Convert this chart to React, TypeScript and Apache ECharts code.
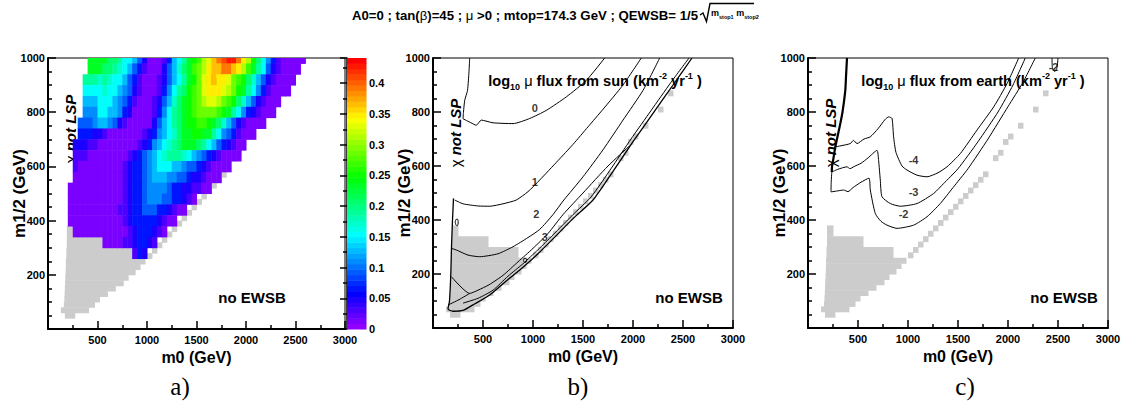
import React, { useEffect, useRef } from 'react';
import * as echarts from 'echarts';

const SANS = '"Liberation Sans", Arial, Helvetica, sans-serif';
const SERIF = '"Liberation Serif", "Times New Roman", serif';

// ---------- axes ----------
const M0_MIN = 0;
const M0_MAX = 3000;
const M0_STEP = 500;
const M12_MIN = 0;
const M12_MAX = 1000;
const M12_STEP = 200;
const OMEGA_MAX = 0.441;
const OMEGA_TICK = 0.05;
const OMEGA_LEVELS = 50;

// ---------- panel a: relic density Omega h^2 ----------
// cells are 50 GeV (m0) x 40 GeV (m1/2); letter a..v = 0.01, 0.03, ..., 0.43
const OMEGA_CELL_M0 = 50;
const OMEGA_CELL_M12 = 40;
const OMEGA_CODES = 'abcdefghijklmnopqrstuv';
const omegaRowM12 = [980, 940, 900, 860, 820, 780, 740, 700, 660, 620, 580, 540, 500, 460, 420, 380, 340, 300, 260];
const omegaRowM0 = [400, 400, 350, 350, 350, 350, 300, 300, 250, 250, 250, 250, 200, 200, 200, 200, 250, 550, 850];
const omegaRowCodes = [
  'llllkkjhhgecaaabdghjlmnpqstuvvtrpmkhfdbaaaaa',
  'lllkkjihgedbaaacegiklnoprssttsrpnljhecbaaaa',
  'jjjijihhgedbaaabceghjlmoqrsrrqonmkigecbaaaa',
  'hhhhihhgfecbaaabdfhjkmnoqrrrqpomljhfdbaaaa',
  'ggghhhgfedbaaabcegiklmnopqqponmkigecbaaa',
  'fffhhggfdcaaaabdfhjklmnoooonmljhfdcbaaa',
  'eeefggfecbaaaaaceghjklmmnnmlkigecbaaaa',
  'dddccbaaaaaaabcdfghikllmmlljhfedbaaa',
  'cccbbaaaaaaaabcdfghijklllkjhgedcbaa',
  'bbbaaaaaaaabcdefghijjjihgfedcbaaaa',
  'baaaaaaaaabcddefghhhggfeedcbaaaa',
  'aaaaaaaaaabcddefgggffeedccbaaa',
  'aaaaaaaaaaabcddeffffeddccbbaa',
  'aaaaaaaaaaabcddefffeeddcba',
  'aaaaaaaaaabbcddeeeddcbaa',
  'aaaaaaaaaaabcdddddcbaa',
  'aaaaaaaaaaabcdddcba',
  'aaaabbcddcb',
  'bdc',
];

// ---------- grey excluded region (all panels) ----------
// [m1/2 low, m1/2 high, m0 from, m0 to]
const greyBands = [
  [340, 380, 190, 250], [300, 340, 190, 550], [260, 300, 185, 850], [240, 260, 180, 980],
  [220, 240, 180, 930], [200, 220, 178, 880], [180, 200, 175, 810], [160, 180, 172, 760],
  [140, 160, 170, 680], [120, 140, 168, 600], [100, 120, 165, 520], [80, 100, 160, 470],
  [60, 80, 130, 410], [40, 60, 170, 270],
];
const GREY_CELL_M0 = 50;
const GREY_CELL_M12 = 20;
const greyDiag = [
  [1000, 260], [1050, 280], [1100, 300], [1150, 320], [1200, 340], [1250, 360], [1300, 380],
  [1350, 400], [1400, 420], [1450, 440], [1500, 460], [1550, 480], [1600, 500], [1650, 520],
  [1700, 540], [1750, 560], [1850, 620], [1900, 640], [1950, 680], [2000, 700], [2100, 740],
  [2250, 800], [2350, 860],
];

// ---------- panel b: log10 muon flux from the sun (contours) ----------
const sunChiLine = [[367, 1000], [360, 950], [345, 880], [317, 843], [305, 800], [300, 775]];
const sunC0 = [[300, 775], [380, 760], [433, 751], [483, 770], [600, 760], [800, 757], [967, 776], [1133, 806], [1333, 856], [1533, 917], [1717, 1000]];
const sunC1 = [[217, 474], [300, 460], [450, 452], [567, 451], [700, 460], [833, 474], [950, 505], [1067, 548], [1250, 620], [1400, 680], [1550, 745], [1700, 810], [1900, 900], [2083, 1000]];
const sunC2 = [[184, 295], [233, 289], [350, 270], [467, 264], [650, 275], [800, 301], [950, 335], [1067, 365], [1200, 420], [1300, 470], [1500, 560], [1700, 660], [1900, 770], [2100, 880], [2267, 1000]];
const sunC3 = [[1967, 675], [1750, 600], [1500, 500], [1300, 420], [1150, 350], [1000, 295], [850, 245], [700, 195], [560, 160], [450, 140], [367, 128], [184, 190]];
const sunC3b = [[367, 128], [260, 105], [150, 85]];
const sunEdgeOuter = [[205, 480], [195, 400], [185, 300], [178, 200], [165, 100], [150, 70], [200, 62], [300, 65], [420, 90], [567, 122], [750, 180], [900, 225], [1050, 275], [1200, 330], [1400, 405], [1600, 474], [1800, 580], [2000, 690], [2200, 795], [2400, 900], [2590, 1000]];
const sunEdgeInner = [[300, 92], [450, 110], [600, 140], [750, 192], [900, 238], [1050, 290], [1200, 345], [1400, 420], [1580, 485], [1780, 590], [1980, 700], [2180, 805], [2380, 910], [2560, 1000]];
const sunIsland0 = [[242, 378], [228, 383], [222, 392], [230, 402], [245, 403], [252, 394], [250, 384], [242, 378]];
const sunIsland1 = [[905, 250], [915, 243], [930, 243], [937, 250], [928, 258], [912, 258], [905, 250]];
const sunLabelText = ['0', '1', '2', '3'];
const sunLabelM0 = [1017, 1017, 1033, 1117];
const sunLabelM12 = [816, 541, 424, 336];

// ---------- panel c: log10 muon flux from the earth (contours) ----------
const earthChiLine = [[390, 1000], [380, 930], [373, 880], [345, 800], [323, 757], [290, 700], [273, 671], [255, 630], [240, 597], [238, 578]];
const earthChiTail = [[238, 578], [232, 540], [230, 504]];
const earthM4 = [[273, 671], [330, 675], [423, 683], [455, 695], [490, 683], [560, 700], [623, 708], [700, 738], [770, 772], [806, 782], [840, 776], [856, 708], [880, 650], [940, 600], [990, 585], [1090, 566], [1190, 560], [1300, 575], [1390, 597], [1523, 646], [1690, 733], [1857, 819], [1990, 905], [2107, 1000]];
const earthM3 = [[238, 578], [300, 588], [390, 597], [420, 590], [460, 598], [530, 610], [600, 630], [690, 658], [706, 621], [723, 548], [740, 486], [823, 461], [923, 451], [1090, 461], [1256, 498], [1356, 535], [1500, 590], [1700, 690], [1900, 800], [2050, 900], [2173, 1000]];
const earthM2 = [[230, 504], [300, 508], [356, 511], [400, 505], [450, 520], [530, 540], [610, 555], [623, 511], [673, 424], [730, 395], [790, 381], [890, 369], [1056, 381], [1190, 412], [1323, 461], [1450, 520], [1600, 590], [1800, 700], [2000, 820], [2150, 910], [2273, 1000]];
const earthM2Top = [[2440, 1000], [2445, 960], [2470, 950], [2490, 965], [2500, 1000]];
const earthLabelText = ['-4', '-3', '-2', '-2'];
const earthLabelM0 = [1056, 1056, 956, 2456];
const earthLabelM12 = [621, 504, 424, 968];

// ---------- helpers ----------
function hslToHex(h: number, s: number, l: number) {
  const a = s * Math.min(l, 1 - l);
  const f = (n: number) => {
    const k = (n + h / 30) % 12;
    const c = l - a * Math.max(-1, Math.min(k - 3, 9 - k, 1));
    return Math.round(255 * c).toString(16).padStart(2, '0');
  };
  return '#' + f(0) + f(8) + f(4);
}
function paletteColor(level: number) {
  const hue = 280 - (level + 1) * (280 / OMEGA_LEVELS);
  return hslToHex(Math.max(0, hue), 1, 0.5);
}
function omegaColor(v: number) {
  const lvl = Math.max(0, Math.min(OMEGA_LEVELS - 1, Math.floor((v / OMEGA_MAX) * OMEGA_LEVELS)));
  return paletteColor(lvl);
}

function rectFrom(api: any, x0: number, x1: number, y0: number, y1: number, fill: string) {
  const p0 = api.coord([x0, y1]);
  const p1 = api.coord([x1, y0]);
  return {
    type: 'rect',
    shape: { x: p0[0], y: p0[1], width: p1[0] - p0[0] + 0.5, height: p1[1] - p0[1] + 0.5 },
    style: { fill },
  };
}

const axisBlack = { color: '#000', width: 2 };
const tickBlack = { color: '#000', width: 1.5 };
const labelFont = { color: '#000', fontFamily: SANS, fontWeight: 'bold' as const, fontSize: 11 };
const titleFont = { color: '#000', fontFamily: SANS, fontWeight: 'bold' as const, fontSize: 16 };

function xAxisFor(gridIndex: number) {
  return {
    type: 'value', gridIndex, min: M0_MIN, max: M0_MAX, interval: M0_STEP,
    name: 'm0 (GeV)', nameLocation: 'middle', nameGap: 20, nameTextStyle: titleFont,
    axisLine: { show: true, onZero: false, lineStyle: axisBlack },
    axisTick: { show: true, inside: true, length: 8, lineStyle: tickBlack },
    minorTick: { show: true, splitNumber: 2, length: 4, lineStyle: tickBlack },
    axisLabel: { ...labelFont, margin: 5, formatter: (v: number) => (v === 0 ? '' : String(v)) },
    splitLine: { show: false },
  };
}
function yAxisFor(gridIndex: number) {
  return {
    type: 'value', gridIndex, min: M12_MIN, max: M12_MAX, interval: M12_STEP,
    name: 'm1/2 (GeV)', nameLocation: 'middle', nameGap: 20, nameMoveOverlap: false,
    nameTextStyle: { ...titleFont, fontSize: 17 },
    axisLine: { show: true, onZero: false, lineStyle: axisBlack },
    axisTick: { show: true, inside: true, length: 8, lineStyle: tickBlack },
    minorTick: { show: true, splitNumber: 4, length: 4, lineStyle: tickBlack },
    axisLabel: { ...labelFont, margin: 3, formatter: (v: number) => (v === 0 ? '' : String(v)) },
    splitLine: { show: false },
  };
}

function greySeries(axisIndex: number) {
  return [
    {
      type: 'custom', xAxisIndex: axisIndex, yAxisIndex: axisIndex, silent: true,
      encode: { x: [2, 3], y: [0, 1] },
      data: greyBands,
      renderItem: (_p: any, api: any) => rectFrom(api, api.value(2), api.value(3), api.value(0), api.value(1), '#cccccc'),
    },
    {
      type: 'custom', xAxisIndex: axisIndex, yAxisIndex: axisIndex, silent: true,
      encode: { x: 0, y: 1 },
      data: greyDiag,
      renderItem: (_p: any, api: any) =>
        rectFrom(api, api.value(0), api.value(0) + GREY_CELL_M0, api.value(1), api.value(1) + GREY_CELL_M12, '#cccccc'),
    },
  ];
}

function contour(axisIndex: number, data: number[][], width = 1) {
  return {
    type: 'line', xAxisIndex: axisIndex, yAxisIndex: axisIndex, data,
    showSymbol: false, symbol: 'none', silent: true, smooth: 0.2,
    lineStyle: { color: '#000', width },
  };
}

function labels(axisIndex: number, text: string[], xs: number[], ys: number[]) {
  return {
    type: 'scatter', xAxisIndex: axisIndex, yAxisIndex: axisIndex, silent: true,
    symbolSize: 1, itemStyle: { color: 'rgba(0,0,0,0)' },
    label: { show: true, position: 'inside', formatter: '{b}', ...labelFont, fontSize: 11 },
    data: text.map((t, i) => ({ name: t, value: [xs[i], ys[i]] })),
  };
}

function richText(x: number, y: number, text: string, rich: any, rotation = 0, align = 'center') {
  return {
    type: 'text', x, y, rotation, silent: true,
    style: { text, rich, align, textAlign: align, verticalAlign: 'middle', textVerticalAlign: 'middle', fill: '#000' },
  };
}

function buildOption() {
  const omegaData: number[][] = [];
  omegaRowCodes.forEach((row, r) => {
    for (let i = 0; i < row.length; i++) {
      const k = OMEGA_CODES.indexOf(row[i]);
      if (k < 0) continue;
      omegaData.push([omegaRowM0[r] + i * OMEGA_CELL_M0, omegaRowM12[r], k * 0.02 + 0.01]);
    }
  });
  const barData: number[][] = [];
  for (let l = 0; l < OMEGA_LEVELS; l++) barData.push([(l * OMEGA_MAX) / OMEGA_LEVELS, ((l + 1) * OMEGA_MAX) / OMEGA_LEVELS, l]);

  const fluxRich = {
    b: { fontFamily: SANS, fontWeight: 'bold', fontSize: 14.6, lineHeight: 20 },
    g: { fontFamily: SANS, fontWeight: 'normal', fontSize: 14.6, lineHeight: 20 },
    sub: { fontFamily: SANS, fontWeight: 'bold', fontSize: 9, lineHeight: 9, verticalAlign: 'bottom' },
    sup: { fontFamily: SANS, fontWeight: 'bold', fontSize: 9, lineHeight: 9, verticalAlign: 'top' },
  };
  const chiRich = {
    g: { fontFamily: SANS, fontWeight: 'normal', fontSize: 15 },
    i: { fontFamily: SANS, fontWeight: 'bold', fontStyle: 'italic', fontSize: 15 },
  };
  const ewsbRich = { b: { fontFamily: SANS, fontWeight: 'bold', fontSize: 15 } };
  const panelRich = { s: { fontFamily: SERIF, fontSize: 25 } };

  return {
    animation: false,
    backgroundColor: '#fff',
    grid: [
      { left: 48, top: 58, width: 297, height: 271, show: true, borderColor: '#000', borderWidth: 1 },
      { left: 347, top: 58, width: 19, height: 271 },
      { left: 433, top: 58, width: 300, height: 270, show: true, borderColor: '#000', borderWidth: 1 },
      { left: 808, top: 58, width: 300, height: 270, show: true, borderColor: '#000', borderWidth: 1 },
    ],
    xAxis: [
      xAxisFor(0),
      { type: 'value', gridIndex: 1, min: 0, max: 1, show: false },
      xAxisFor(2),
      xAxisFor(3),
    ],
    yAxis: [
      yAxisFor(0),
      {
        type: 'value', gridIndex: 1, position: 'right', min: 0, max: OMEGA_MAX, interval: OMEGA_TICK,
        axisLine: { show: true, lineStyle: { color: '#000', width: 1.5 } },
        axisTick: { show: true, inside: true, length: 7, lineStyle: tickBlack },
        minorTick: { show: true, splitNumber: 2, length: 4, lineStyle: tickBlack },
        splitLine: { show: false },
        axisLabel: {
          ...labelFont, margin: 3, showMaxLabel: false,
          formatter: (v: number) => {
            const q = v / OMEGA_TICK;
            if (Math.abs(q - Math.round(q)) > 1e-6) return '';
            return String(Math.round(v * 100) / 100);
          },
        },
      },
      yAxisFor(2),
      yAxisFor(3),
    ],
    series: [
      ...greySeries(0),
      {
        type: 'custom', xAxisIndex: 0, yAxisIndex: 0, silent: true,
        encode: { x: 0, y: 1 },
        data: omegaData,
        renderItem: (_p: any, api: any) => {
          const x0 = api.value(0);
          const y0 = api.value(1);
          return rectFrom(api, x0, x0 + OMEGA_CELL_M0, y0, Math.min(y0 + OMEGA_CELL_M12, M12_MAX), omegaColor(api.value(2)));
        },
      },
      {
        type: 'custom', xAxisIndex: 1, yAxisIndex: 1, silent: true,
        encode: { y: [0, 1] },
        data: barData,
        renderItem: (_p: any, api: any) => rectFrom(api, 0, 1, api.value(0), api.value(1), paletteColor(api.value(2))),
      },
      ...greySeries(2),
      contour(2, sunChiLine),
      contour(2, sunC0),
      contour(2, sunC1),
      contour(2, sunC2),
      contour(2, sunC3),
      contour(2, sunC3b),
      contour(2, sunEdgeOuter, 1.3),
      contour(2, sunEdgeInner, 1),
      contour(2, sunIsland0),
      contour(2, sunIsland1),
      labels(2, sunLabelText, sunLabelM0, sunLabelM12),
      ...greySeries(3),
      contour(3, earthChiLine, 2.2),
      contour(3, earthChiTail),
      contour(3, earthM4),
      contour(3, earthM3),
      contour(3, earthM2),
      contour(3, earthM2Top),
      labels(3, earthLabelText, earthLabelM0, earthLabelM12),
    ],
    graphic: [
      richText(698, 15, '{b|A0=0 ; tan(}{g|β}{b|)=45 ; }{g|μ}{b| >0 ; mtop=174.3 GeV ; QEWSB= 1/5}', {
        b: { fontFamily: SANS, fontWeight: 'bold', fontSize: 13.2 },
        g: { fontFamily: SANS, fontWeight: 'normal', fontSize: 13.2 },
      }, 0, 'right'),
      richText(711, 13, '{m|m}{s|stop1}{m| m}{s|stop2}', {
        m: { fontFamily: SANS, fontWeight: 'bold', fontSize: 9, lineHeight: 13 },
        s: { fontFamily: SANS, fontWeight: 'bold', fontSize: 5.5, lineHeight: 6, verticalAlign: 'bottom' },
      }, 0, 'left'),
      {
        type: 'polyline', silent: true,
        shape: { points: [[700, 15], [703, 13], [706.5, 21.5], [710, 3.5], [754, 3.5]] },
        style: { stroke: '#000', lineWidth: 1.4, fill: 'none' },
      },
      richText(595, 81, '{b|log}{sub|10}{b| }{g|μ}{b| flux from sun (km}{sup|-2}{b| yr}{sup|-1}{b| )}', fluxRich),
      richText(973, 81, '{b|log}{sub|10}{b| }{g|μ}{b| flux from earth (km}{sup|-2}{b| yr}{sup|-1}{b| )}', fluxRich),
      richText(210, 79, '{b|Ωh}{sup|2}', {
        b: { fontFamily: SANS, fontWeight: 'bold', fontSize: 15, lineHeight: 20 },
        sup: { fontFamily: SANS, fontWeight: 'bold', fontSize: 9, lineHeight: 9, verticalAlign: 'top' },
      }),
      richText(70, 129, '{g|χ}{i| not LSP}', chiRich, Math.PI / 2),
      richText(455, 133, '{g|χ}{i| not LSP}', chiRich, Math.PI / 2),
      richText(830, 133, '{g|χ}{i| not LSP}', chiRich, Math.PI / 2),
      richText(252, 297, '{b|no EWSB}', ewsbRich),
      richText(689, 297, '{b|no EWSB}', ewsbRich),
      richText(1064, 297, '{b|no EWSB}', ewsbRich),
      richText(180, 386, '{s|a)}', panelRich),
      richText(578, 386, '{s|b)}', panelRich),
      richText(965, 386, '{s|c)}', panelRich),
    ],
  };
}

export default function App() {
  const ref = useRef<HTMLDivElement>(null);
  useEffect(() => {
    const chart = echarts.init(ref.current!, undefined, { renderer: 'svg' });
    chart.setOption(buildOption() as any);
    return () => chart.dispose();
  }, []);
  return (
    <div
      ref={ref}
      style={{ position: 'fixed', left: 0, top: 0, width: 1125, height: 412, background: '#fff' }}
    />
  );
}
